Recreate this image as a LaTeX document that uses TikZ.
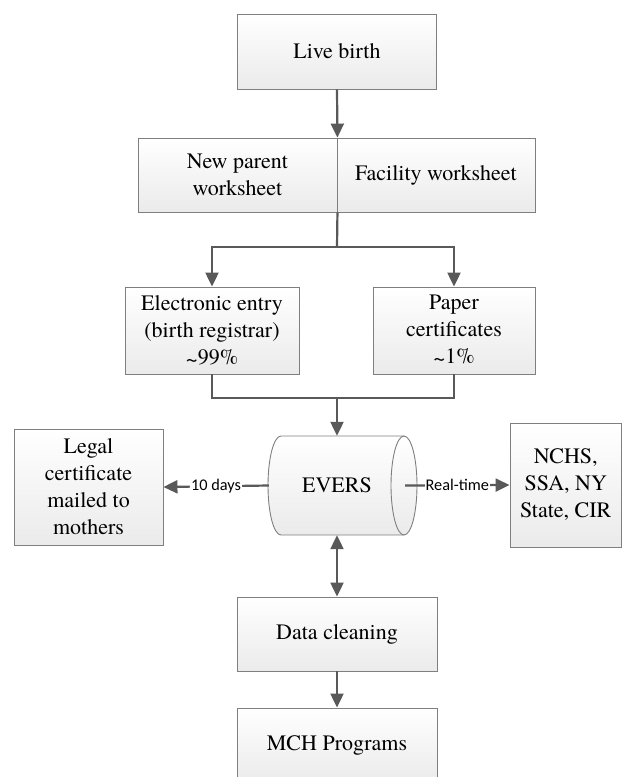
\documentclass[tikz,border=0pt]{standalone}
\usepackage{fontspec}
\setmainfont{TeX Gyre Termes}
\newfontfamily\boxfont{TeX Gyre Termes}
\newfontfamily\labfont{Carlito}
\usetikzlibrary{arrows.meta}
\definecolor{arrowgray}{HTML}{595959}
\definecolor{boxborder}{HTML}{7F7F7F}
\newcommand{\mytilde}{\raisebox{-0.2ex}{\textasciitilde}}
\begin{document}
\begin{tikzpicture}[x=1pt,y=-1pt,
  box/.style={draw=boxborder, line width=0.9pt, top color=white, bottom color=black!8,
    inner sep=0pt, align=center, font=\boxfont\fontsize{22}{27}\selectfont},
  sz/.style 2 args={minimum width=#1pt, minimum height=#2pt},
  cyl/.style={draw=boxborder, line width=0.9pt},
  ln/.style={draw=arrowgray, line width=2.2pt},
  arr/.style={ln, -{Triangle[width=13pt,length=14pt]}},
  arrb/.style={ln, {Triangle[width=13pt,length=14pt]}-{Triangle[width=13pt,length=14pt]}},
  lab/.style={fill=white, inner sep=1pt, text=black, font=\labfont\fontsize{16.3}{19}\selectfont}]
\useasboundingbox (0,0) rectangle (622,777);

% nodes
\node[box, sz={199}{75}] (live) at (337,51.5) {Live birth};
\node[box, sz={199}{74}] (np) at (237.5,175) {New parent\\worksheet};
\node[box, sz={198}{74}] (fw) at (436,175) {Facility worksheet};
\node[box, sz={174}{87}] (elec) at (212,330.5) {Electronic entry\\(birth registrar)\\\mytilde 99\%};
\node[box, sz={162}{87}] (paper) at (454,330.5) {Paper\\certificates\\\mytilde 1\%};
\node[box, sz={149}{116}] (legal) at (88.5,487) {Legal\\certificate\\mailed to\\mothers};
\node[box, sz={111.5}{124}] (nchs) at (565.75,485) {NCHS,\\SSA, NY\\State, CIR};
\node[box, sz={200}{74}] (clean) at (337,634) {Data cleaning};
\node[box, sz={200}{75}] (mch) at (337,745.5) {MCH Programs};

% EVERS cylinder
\path[cyl, top color=white, bottom color=black!8]
  (281,436) -- (404,436)
  arc[start angle=90, end angle=-90, x radius=13pt, y radius=49.5pt]
  -- (281,535)
  arc[start angle=270, end angle=90, x radius=13pt, y radius=49.5pt]
  -- cycle;
\draw[cyl] (404,436) arc[start angle=90, end angle=270, x radius=13pt, y radius=49.5pt];
\node[inner sep=0pt, minimum width=136pt, minimum height=99pt,
  font=\boxfont\fontsize{22}{27}\selectfont] (evers) at (337,485.5) {EVERS};

% coordinates
\coordinate (split) at (337,247);
\coordinate (join) at (337,398);

% connectors
\draw[arr] (live.south) -- (np.north east);
\draw[ln] (np.south east) -- (split);
\draw[arr] (split) -| (elec.north);
\draw[arr] (split) -| (paper.north);
\draw[ln] (elec.south) |- (join);
\draw[ln] (paper.south) |- (join);
\draw[arr] (join) -- (evers.north);
\draw[arr] (evers.west) -- node[lab] {10 days} (legal.east);
\draw[arr] (evers.east) -- node[lab] {Real-time} (nchs.west);
\draw[arrb] (evers.south) -- (clean.north);
\draw[arr] (clean.south) -- (mch.north);
\end{tikzpicture}
\end{document}
